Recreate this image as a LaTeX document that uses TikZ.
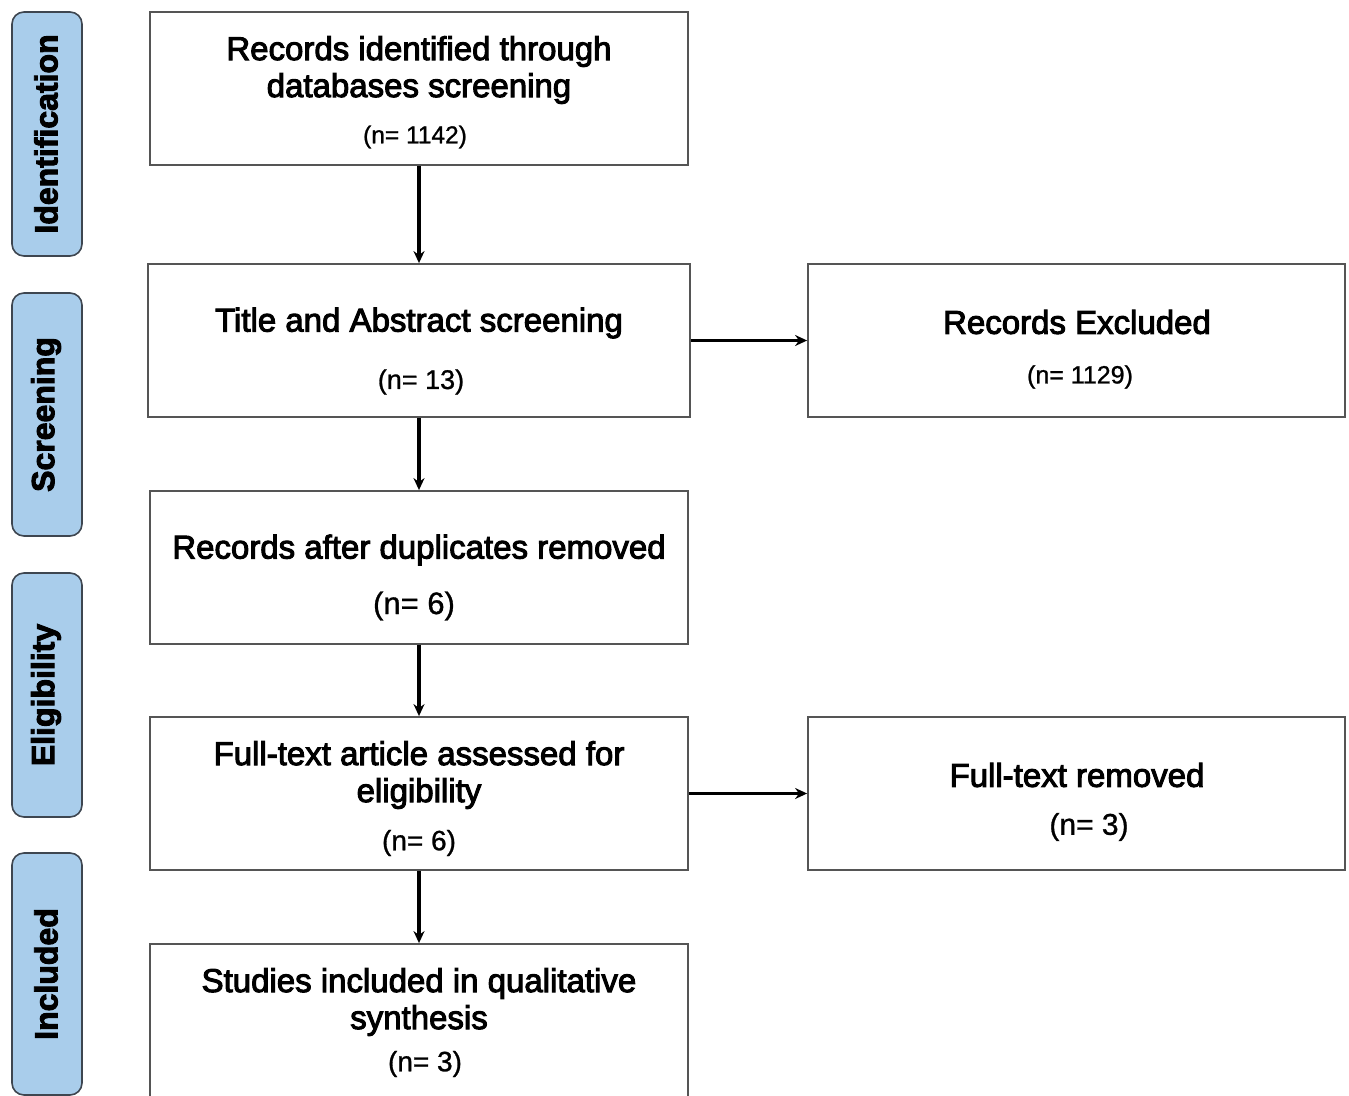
\documentclass[tikz,border=0pt]{standalone}
\usepackage{fontspec}
\setmainfont{Liberation Sans}
\newfontfamily\headfont[FakeBold=3]{Liberation Sans}
\newfontfamily\numfont[FakeBold=1]{Liberation Sans}
\newfontfamily\sidefont[FakeBold=3]{Liberation Sans Bold}
\usetikzlibrary{arrows.meta}
\definecolor{boxgray}{HTML}{555555}
\definecolor{sidefill}{HTML}{A9CDEB}
\definecolor{sideedge}{HTML}{3E4650}
\begin{document}
\begin{tikzpicture}[x=1pt,y=-1pt,
  box/.style={draw=boxgray,line width=1.8pt,inner sep=0pt},
  side/.style={draw=sideedge,fill=sidefill,line width=1.6pt,rounded corners=12pt,inner sep=0pt,minimum width=70pt},
  sidetext/.style={rotate=90,inner sep=0pt,font=\sidefont\fontsize{32}{36}\selectfont},
  ttl/.style={inner sep=0pt,align=center,font=\headfont\fontsize{33}{37}\selectfont},
  num/.style={inner sep=0pt,font=\numfont\fontsize{#1}{#1}\selectfont},
  arr/.style={-{Stealth[length=12pt,width=11pt]},line width=3.2pt,draw=black}]
\useasboundingbox (0,0) rectangle (1349,1095);
\fill[white] (0,0) rectangle (1349,1095);

% side phase labels
\node[side,minimum height=244pt] (s1) at (47,134) {};
\node[sidetext] (s1t) at (46,134) {Identification};
\node[side,minimum height=243pt] (s2) at (47,414.5) {};
\node[sidetext] (s2t) at (46,414.5) {Screening};
\node[side,minimum height=244pt] (s3) at (47,695) {};
\node[sidetext] (s3t) at (46,695) {Eligibility};
\node[side,minimum height=242pt] (s4) at (47,974) {};
\node[sidetext] (s4t) at (46,974) {Included};

% main boxes
\node[box,minimum width=538pt,minimum height=153pt] (b1) at (419,88.5) {};
\node[box,minimum width=542pt,minimum height=153pt] (b2) at (419,340.5) {};
\node[box,minimum width=537pt,minimum height=153pt] (b3) at (1076.5,340.5) {};
\node[box,minimum width=538pt,minimum height=153pt] (b4) at (419,567.5) {};
\node[box,minimum width=538pt,minimum height=153pt] (b5) at (419,793.5) {};
\node[box,minimum width=537pt,minimum height=153pt] (b6) at (1076.5,793.5) {};
\node[box,minimum width=538pt,minimum height=170pt] (b7) at (419,1029) {};

% texts
\node[ttl] (t1) at (419,70) {Records identified through\\databases screening};
\node[num=24.5] (n1) at (415,137) {(n= 1142)};
\node[ttl] (t2) at (419,323) {Title and Abstract screening};
\node[num=27] (n2) at (421,382) {(n= 13)};
\node[ttl] (t3) at (1077,322) {Records Excluded};
\node[num=25] (n3) at (1080,377) {(n= 1129)};
\node[ttl] (t4) at (419,550) {Records after duplicates removed};
\node[num=31] (n4) at (414,606) {(n= 6)};
\node[ttl] (t5) at (419,775) {Full-text article assessed for\\eligibility};
\node[num=28] (n5) at (419,843) {(n= 6)};
\node[ttl] (t6) at (1077,775) {Full-text removed};
\node[num=30] (n6) at (1089,827) {(n= 3)};
\node[ttl] (t7) at (419,1002) {Studies included in qualitative\\synthesis};
\node[num=28] (n7) at (425,1064) {(n= 3)};

% connectors
\draw[arr] (b1.south) -- (b2.north);
\draw[arr] (b2.south) -- (b4.north);
\draw[arr] (b4.south) -- (b5.north);
\draw[arr] (b5.south) -- (b7.north);
\draw[arr] (b2.east) -- (b3.west);
\draw[arr] (b5.east) -- (b6.west);
\end{tikzpicture}
\end{document}
